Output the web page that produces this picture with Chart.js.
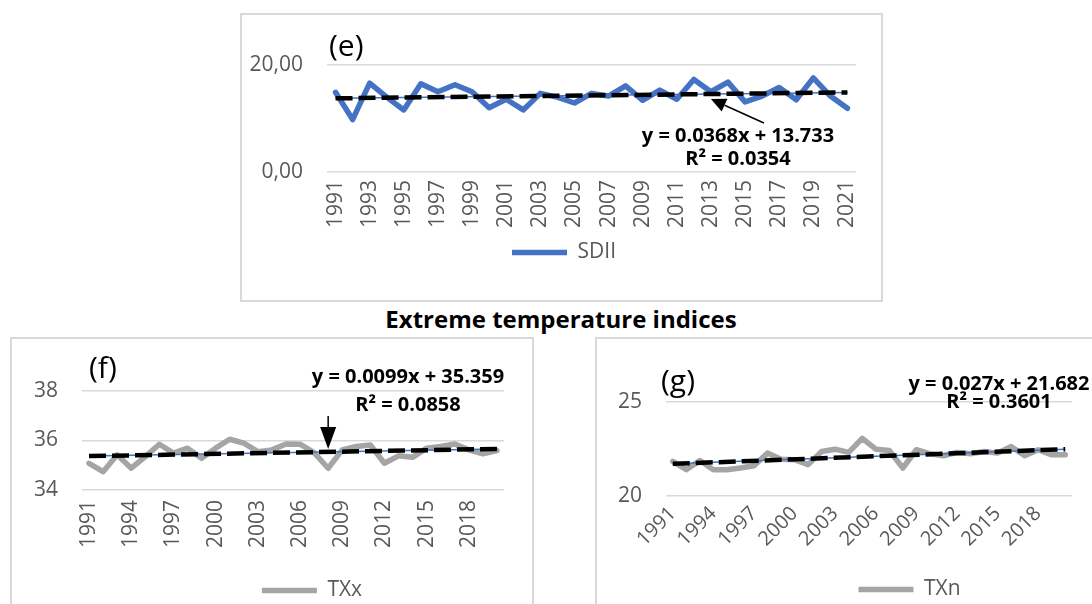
<!DOCTYPE html>
<html>
<head>
<meta charset="utf-8">
<script src="https://cdn.jsdelivr.net/npm/chart.js@4.4.1/dist/chart.umd.min.js"></script>
<style>
  body { margin: 0; width: 1092px; height: 604px; overflow: hidden; background: #fff; position: relative; font-family: "Open Sans", sans-serif; }
  .box { position: absolute; border: 2px solid #d9d9d9; box-sizing: border-box; background: #fff; }
  .box canvas { display: block; }
  #title { position: absolute; left: 361px; width: 400px; top: 306px; line-height: 25px; text-align: center; font-weight: bold; font-size: 24px; color: #000; white-space: nowrap; }
</style>
</head>
<body>
<div class="box" style="left:240px;top:13px;width:643px;height:289px"><canvas id="chartE" width="639" height="285"></canvas></div>
<div id="title">Extreme temperature indices</div>
<div class="box" style="left:10px;top:337px;width:524px;height:300px"><canvas id="chartF" width="520" height="290"></canvas></div>
<div class="box" style="left:595px;top:337px;width:520px;height:300px"><canvas id="chartG" width="495" height="290"></canvas></div>

<script>
// (e) precipitation intensity
const yearsE = ['1991','1992','1993','1994','1995','1996','1997','1998','1999','2000','2001','2002','2003','2004','2005','2006','2007','2008','2009','2010','2011','2012','2013','2014','2015','2016','2017','2018','2019','2020','2021'];
const sdii = [14.9, 9.8, 16.6, 14.0, 11.6, 16.5, 15.0, 16.3, 15.0, 12.0, 13.6, 11.6, 14.7, 14.0, 12.9, 14.7, 14.2, 16.1, 13.4, 15.3, 13.6, 17.3, 15.0, 16.8, 13.1, 14.2, 15.8, 13.5, 17.6, 14.2, 11.9];
const sdiiTrend = [13.77, 14.87]; // first and last year
const sdiiTicks = [0, 20];

// (f) and (g) temperature
const yearsT = ['1991','1992','1993','1994','1995','1996','1997','1998','1999','2000','2001','2002','2003','2004','2005','2006','2007','2008','2009','2010','2011','2012','2013','2014','2015','2016','2017','2018','2019','2020'];
const txx = [35.08, 34.74, 35.42, 34.88, 35.35, 35.85, 35.49, 35.69, 35.28, 35.69, 36.05, 35.89, 35.55, 35.62, 35.86, 35.85, 35.51, 34.88, 35.62, 35.76, 35.82, 35.08, 35.38, 35.32, 35.69, 35.76, 35.86, 35.62, 35.46, 35.59];
const txxTrend = [35.37, 35.66];
const txxTicks = [34, 38];
const txn = [21.84, 21.40, 21.89, 21.40, 21.40, 21.49, 21.61, 22.28, 21.96, 21.93, 21.67, 22.37, 22.49, 22.32, 23.07, 22.49, 22.42, 21.49, 22.46, 22.25, 22.14, 22.32, 22.25, 22.37, 22.28, 22.63, 22.14, 22.46, 22.19, 22.19];
const txnTrend = [21.71, 22.49];
const txnTicks = [20, 25];

Chart.defaults.font.family = '"Open Sans", sans-serif';
Chart.defaults.color = '#595959';

// nudge the bottom legend sideways
const shiftLegend = {
  id: 'shiftLegend',
  afterLayout(chart, args, o) {
    if (chart.legend && o.dx) { chart.legend.left += o.dx; chart.legend.right += o.dx; }
  }
};

// panel letter, trend equation and arrow
const notes = {
  id: 'notes',
  afterDatasetsDraw(chart, args, o) {
    const ctx = chart.ctx;
    ctx.save();
    ctx.fillStyle = '#000';
    ctx.textBaseline = 'middle';
    ctx.textAlign = 'left';
    ctx.font = '30px "Open Sans"';
    ctx.fillText(o.letter, o.letterX, o.letterY);
    ctx.textAlign = 'center';
    ctx.font = 'bold 20px "Open Sans"';
    o.eq.forEach((t, i) => ctx.fillText(t, o.eqX, o.eqY[i]));
    if (o.arrow) {
      const xs = chart.scales.x, ys = chart.scales.y;
      const a = o.arrow, n = chart.data.labels.length;
      const idx = chart.data.labels.indexOf(a.at);
      const tv = a.trend[0] + (a.trend[1] - a.trend[0]) * idx / (n - 1);
      const tx = xs.getPixelForValue(idx), ty = ys.getPixelForValue(tv) + a.dy;
      const sx = tx + a.tail[0], sy = ty + a.tail[1];
      const len = Math.hypot(tx - sx, ty - sy), ux = (tx - sx) / len, uy = (ty - sy) / len;
      const bx = tx - ux * a.head, by = ty - uy * a.head;
      ctx.strokeStyle = '#000';
      ctx.lineWidth = 1.5;
      ctx.beginPath(); ctx.moveTo(sx, sy); ctx.lineTo(bx, by); ctx.stroke();
      ctx.beginPath();
      ctx.moveTo(tx, ty);
      ctx.lineTo(bx - uy * a.half, by + ux * a.half);
      ctx.lineTo(bx + uy * a.half, by - ux * a.half);
      ctx.closePath(); ctx.fill();
    }
    ctx.restore();
  }
};

function makeChart(id, p) {
  const n = p.labels.length;
  return new Chart(document.getElementById(id), {
    type: 'line',
    data: {
      labels: p.labels,
      datasets: [
        { label: 'trend', data: [{x: p.labels[0], y: p.trend[0]}, {x: p.labels[n - 1], y: p.trend[1]}],
          borderColor: '#000', borderWidth: 4.5, borderDash: [17, 6], order: 0 },
        { label: 'trend2', data: [{x: p.labels[0], y: p.trend[0]}, {x: p.labels[n - 1], y: p.trend[1]}],
          borderColor: '#4472C4', borderWidth: 1.5, order: 1 },
        { label: p.name, data: p.values, borderColor: p.color, backgroundColor: p.color,
          borderWidth: 5.5, borderJoinStyle: 'round', borderCapStyle: 'round', order: 2 }
      ]
    },
    options: {
      responsive: false,
      animation: false,
      elements: { point: { radius: 0 }, line: { tension: 0 } },
      layout: { padding: { left: 0, top: p.top, right: p.right, bottom: p.bottom } },
      scales: {
        x: {
          offset: true,
          grid: { display: false, drawTicks: false },
          border: { display: false },
          afterFit: s => { s.height = p.xh; },
          ticks: {
            autoSkip: false, minRotation: p.rot, maxRotation: p.rot, padding: p.xpad,
            font: { size: p.xfont }, color: '#595959',
            callback(v, i) { return i % p.step === 0 ? this.getLabelForValue(v) : null; }
          }
        },
        y: {
          min: p.ticks[0], max: p.ticks[1],
          grid: { color: '#d9d9d9', lineWidth: 1.5, drawTicks: false },
          border: { display: false },
          afterFit: s => { s.width = p.yw; },
          ticks: { stepSize: p.ticks[1] - p.ticks[0], padding: 24, font: { size: 21 }, color: '#595959',
                   callback: p.fmt }
        }
      },
      plugins: {
        tooltip: { enabled: false },
        legend: {
          position: 'bottom',
          labels: {
            filter: it => it.datasetIndex === 2,
            usePointStyle: true, pointStyle: 'line', pointStyleWidth: 55,
            font: { size: 21 }, color: '#595959', padding: 10
          }
        },
        shiftLegend: { dx: p.dx },
        notes: p.notes
      }
    },
    plugins: [shiftLegend, notes]
  });
}

makeChart('chartE', {
  labels: yearsE, values: sdii, trend: sdiiTrend, ticks: sdiiTicks, name: 'SDII', color: '#4472C4',
  top: 50, right: 23, bottom: 27, xh: 60, yw: 85, rot: 90, xpad: 8, xfont: 21, step: 2, dx: 14,
  fmt: v => v.toFixed(2).replace('.', ','),
  notes: { letter: '(e)', letterX: 87, letterY: 32, eq: ['y = 0.0368x + 13.733', 'R² = 0.0354'], eqX: 496, eqY: [121, 144],
           arrow: { at: '2013', trend: sdiiTrend, dy: 5, tail: [53, 24], head: 15, half: 7 } }
});

makeChart('chartF', {
  labels: yearsT, values: txx, trend: txxTrend, ticks: txxTicks, name: 'TXx', color: '#A5A5A5',
  top: 52, right: 28, bottom: 18, xh: 80, yw: 70, rot: 90, xpad: 10, xfont: 21, step: 3, dx: 54,
  fmt: v => v,
  notes: { letter: '(f)', letterX: 77, letterY: 30, eq: ['y = 0.0099x + 35.359', 'R² = 0.0858'], eqX: 396, eqY: [38, 66],
           arrow: { at: '2008', trend: txxTrend, dy: -3, tail: [0, -33], head: 22, half: 8 } }
});

makeChart('chartG', {
  labels: yearsT, values: txn, trend: txnTrend, ticks: txnTicks, name: 'TXn', color: '#A5A5A5',
  top: 63, right: 20, bottom: 19, xh: 73, yw: 69, rot: 45, xpad: 6, xfont: 20, step: 3, dx: 75,
  fmt: v => v,
  notes: { letter: '(g)', letterX: 64, letterY: 43, eq: ['y = 0.027x + 21.682', 'R² = 0.3601'], eqX: 402, eqY: [45, 63] }
});
</script>
</body>
</html>
